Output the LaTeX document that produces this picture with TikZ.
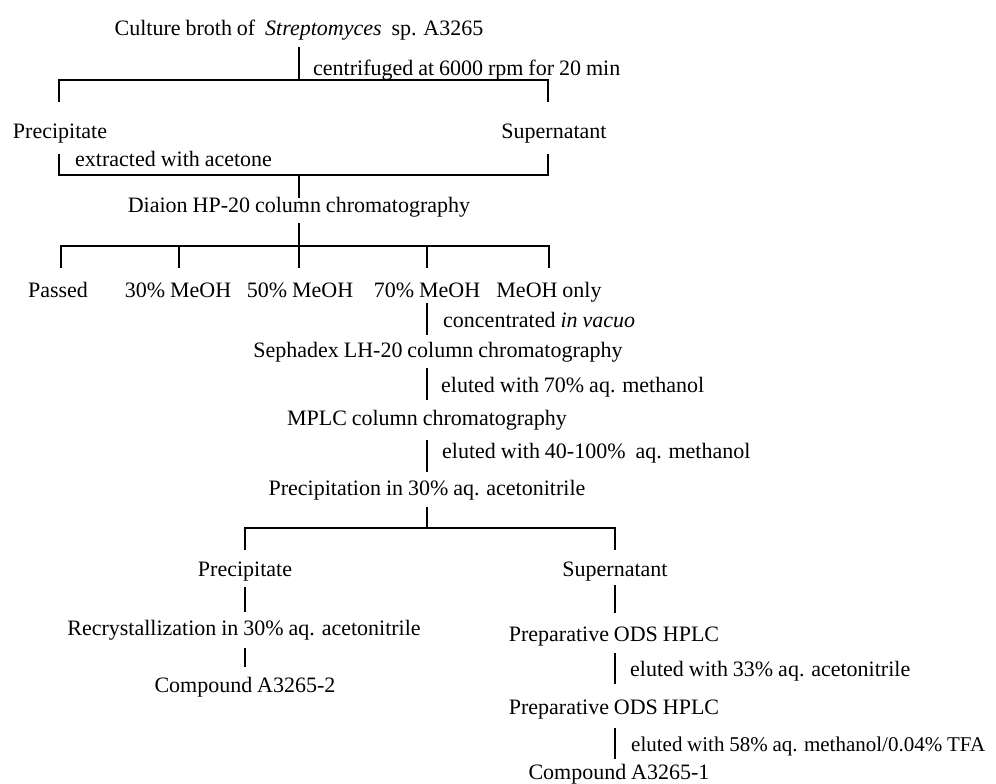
\documentclass[tikz,border=0pt]{standalone}
\usepackage{fontspec}
\setmainfont{Liberation Serif}[WordSpace=0.9]
\begin{document}
\begin{tikzpicture}[x=1pt,y=-1pt,
  txt/.style={inner sep=0pt,text height=16pt,text depth=0pt,font=\fontsize{22}{26}\selectfont},
  lbl/.style={txt,anchor=west},
  ln/.style={line width=1.3pt,line cap=butt}]
\useasboundingbox (0,0) rectangle (996,784);
% text nodes
\node[txt] (title) at (299,28) {Culture broth of\ \ \textit{Streptomyces}\ \ sp. A3265};
\node[lbl] (l1) at (313,67) {centrifuged at 6000 rpm for 20 min};
\node[txt] (prec1) at (60,130) {Precipitate};
\node[txt] (sup1) at (554,130) {Supernatant};
\node[lbl] (l2) at (75,158) {extracted with acetone};
\node[txt] (diaion) at (299,204) {Diaion HP-20 column chromatography};
\node[txt] (f1) at (58,289) {Passed};
\node[txt] (f2) at (178,289) {30\% MeOH};
\node[txt] (f3) at (300,289) {50\% MeOH};
\node[txt] (f4) at (427,289) {70\% MeOH};
\node[txt] (f5) at (549,289) {MeOH only};
\node[lbl] (l3) at (443,319) {concentrated \textit{in vacuo}};
\node[txt] (seph) at (438,349) {Sephadex LH-20 column chromatography};
\node[lbl] (l4) at (441,384) {eluted with 70\% aq. methanol};
\node[txt] (mplc) at (427,417) {MPLC column chromatography};
\node[lbl] (l5) at (442,450) {eluted with 40-100\%\ \ aq. methanol};
\node[txt] (precip) at (427,487) {Precipitation in 30\% aq. acetonitrile};
\node[txt] (prec2) at (245,568) {Precipitate};
\node[txt] (sup2) at (615,568) {Supernatant};
\node[txt] (recr) at (244,627) {Recrystallization in 30\% aq. acetonitrile};
\node[txt] (comp2) at (245,684) {Compound A3265-2};
\node[txt] (prep1) at (614,633) {Preparative ODS HPLC};
\node[lbl] (l6) at (630,668) {eluted with 33\% aq. acetonitrile};
\node[txt] (prep2) at (614,706) {Preparative ODS HPLC};
\node[lbl,font=\fontsize{21}{26}\selectfont] (l7) at (631,743) {eluted with 58\% aq. methanol/0.04\% TFA};
\node[txt] (comp1) at (619,771) {Compound A3265-1};
% coordinates
\coordinate (a0) at (299,47);  \coordinate (a1) at (299,80);
\coordinate (aL) at (59,80);   \coordinate (aR) at (548,80);
\coordinate (aLd) at (59,102); \coordinate (aRd) at (548,102);
\coordinate (bLu) at (59,154); \coordinate (bRu) at (548,154);
\coordinate (bL) at (59,175);  \coordinate (bR) at (548,175);
\coordinate (b1) at (299,175); \coordinate (b2) at (299,198);
\coordinate (c0) at (299,223); \coordinate (c1) at (299,246);
\coordinate (cL) at (61,246);  \coordinate (cR) at (549,246);
\coordinate (d1) at (61,268);  \coordinate (d2) at (179,268);
\coordinate (d3) at (299,268); \coordinate (d4) at (427,268);
\coordinate (d5) at (549,268);
\coordinate (e2) at (179,246); \coordinate (e4) at (427,246);
\coordinate (g0) at (427,303); \coordinate (g1) at (427,335);
\coordinate (h0) at (427,368); \coordinate (h1) at (427,400);
\coordinate (i0) at (427,440); \coordinate (i1) at (427,472);
\coordinate (j0) at (427,507); \coordinate (j1) at (427,528);
\coordinate (jL) at (245,528); \coordinate (jR) at (615,528);
\coordinate (jLd) at (245,550); \coordinate (jRd) at (615,550);
\coordinate (k0) at (245,587); \coordinate (k1) at (245,612);
\coordinate (k2) at (245,648); \coordinate (k3) at (245,667);
\coordinate (m0) at (615,585); \coordinate (m1) at (615,613);
\coordinate (m2) at (615,653); \coordinate (m3) at (615,684);
\coordinate (m4) at (615,728); \coordinate (m5) at (615,759);
% connectors
\draw[ln] (a0) -- (a1);
\draw[ln] (aLd) -- (aL) -- (aR) -- (aRd);
\draw[ln] (bLu) -- (bL) -- (bR) -- (bRu);
\draw[ln] (b1) -- (b2);
\draw[ln] (c0) -- (c1);
\draw[ln] (d1) -- (cL) -- (cR) -- (d5);
\draw[ln] (e2) -- (d2);
\draw[ln] (c1) -- (d3);
\draw[ln] (e4) -- (d4);
\draw[ln] (g0) -- (g1);
\draw[ln] (h0) -- (h1);
\draw[ln] (i0) -- (i1);
\draw[ln] (j0) -- (j1);
\draw[ln] (jLd) -- (jL) -- (jR) -- (jRd);
\draw[ln] (k0) -- (k1);
\draw[ln] (k2) -- (k3);
\draw[ln] (m0) -- (m1);
\draw[ln] (m2) -- (m3);
\draw[ln] (m4) -- (m5);
\end{tikzpicture}
\end{document}
